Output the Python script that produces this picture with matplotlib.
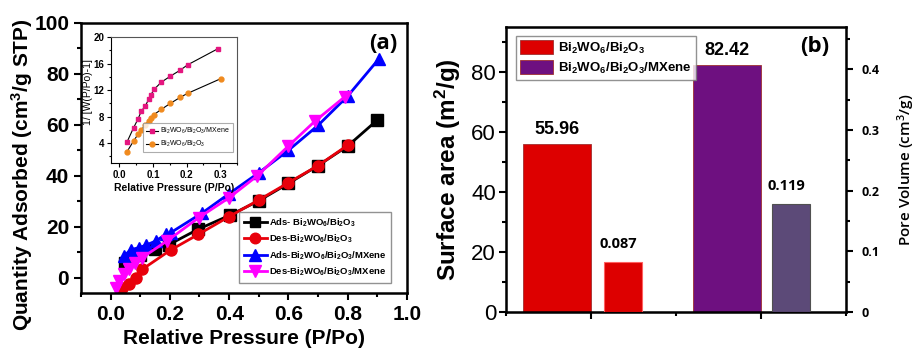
import matplotlib
matplotlib.use("Agg")
import matplotlib.pyplot as plt
from matplotlib.ticker import MultipleLocator

plt.rcParams['font.family'] = ['Liberation Sans', 'DejaVu Sans']
plt.rcParams['mathtext.default'] = 'regular'

# ---- isotherm data (a) ----
ads_p = [0.048, 0.07, 0.1, 0.15, 0.197, 0.295, 0.402, 0.5, 0.6, 0.7, 0.8, 0.9]
ads_q = [5.6, 7.0, 9.0, 11.2, 13.0, 19.0, 24.5, 30.2, 37.0, 44.0, 51.7, 61.9]
des_p = [0.04, 0.062, 0.085, 0.107, 0.203, 0.296, 0.4, 0.5, 0.6, 0.7, 0.8]
des_q = [-4.0, -2.6, 0.0, 3.3, 10.9, 17.0, 24.0, 30.5, 37.3, 44.0, 52.0]
ads_mx_p = [0.045, 0.068, 0.096, 0.118, 0.152, 0.186, 0.203, 0.31, 0.4, 0.5, 0.6, 0.7, 0.8, 0.906]
ads_mx_q = [8.5, 11.0, 11.8, 12.7, 14.4, 17.0, 17.7, 25.5, 33.0, 41.2, 50.0, 59.8, 71.3, 86.0]
des_mx_p = [0.017, 0.028, 0.045, 0.062, 0.084, 0.107, 0.19, 0.298, 0.4, 0.495, 0.6, 0.69, 0.79]
des_mx_q = [-4.0, -1.3, 1.3, 3.3, 5.9, 7.9, 14.4, 23.6, 31.4, 40.0, 51.7, 61.5, 71.0]

# ---- BET inset ----
bet_p_mx = [0.0225, 0.042, 0.055, 0.065, 0.077, 0.087, 0.094, 0.103, 0.125, 0.152, 0.181, 0.203, 0.292]
bet_y_mx = [4.15, 6.3, 7.6, 8.8, 9.6, 10.6, 11.3, 12.1, 13.2, 14.1, 15.0, 15.8, 18.2]
bet_p = [0.0225, 0.042, 0.055, 0.065, 0.077, 0.087, 0.094, 0.103, 0.125, 0.152, 0.181, 0.203, 0.301]
bet_y = [2.7, 4.3, 5.3, 6.0, 6.7, 7.4, 7.8, 8.3, 9.1, 10.0, 10.9, 11.5, 13.7]

# ---- bars (b) ----
samples = ['Bi$_2$WO$_6$/Bi$_2$O$_3$', 'Bi$_2$WO$_6$/Bi$_2$O$_3$/MXene']
surface_area = [55.96, 82.42]
pore_volume_bar = [0.083, 0.178]
pore_volume_text = ['0.087', '0.119']
sa_x = [0.8, 1.8]
pv_x = [1.19, 2.18]
sa_colors = ['#DD0000', '#6E1080']
pv_colors = ['#DD0000', '#5C4A78']

fig = plt.figure(figsize=(9.19, 3.5), dpi=100)

# ===== panel (a) =====
ax = fig.add_axes([0.0881, 0.1629, 0.3547, 0.7714])
ax.plot(ads_p, ads_q, '-s', color='black', lw=2, ms=8, label='Ads- Bi$_2$WO$_6$/Bi$_2$O$_3$')
ax.plot(des_p, des_q, '-o', color='#E8000B', lw=2, ms=8, label='Des-Bi$_2$WO$_6$/Bi$_2$O$_3$')
ax.plot(ads_mx_p, ads_mx_q, '-^', color='#0000FF', lw=2, ms=9, label='Ads-Bi$_2$WO$_6$/Bi$_2$O$_3$/MXene')
ax.plot(des_mx_p, des_mx_q, '-v', color='#FF00FF', lw=2, ms=9, label='Des-Bi$_2$WO$_6$/Bi$_2$O$_3$/MXene')
ax.set_xlim(-0.1, 1.0)
ax.set_ylim(-6, 100)
ax.xaxis.set_minor_locator(MultipleLocator(0.1))
ax.yaxis.set_major_locator(MultipleLocator(20))
ax.yaxis.set_minor_locator(MultipleLocator(10))
ax.set_xticks([0.0, 0.2, 0.4, 0.6, 0.8, 1.0])
ax.set_xticklabels(['0.0', '0.2', '0.4', '0.6', '0.8', '1.0'])
ax.tick_params(which='major', length=5, width=1.5, labelsize=15)
ax.tick_params(which='minor', length=3, width=1.5)
for lbl in ax.get_xticklabels() + ax.get_yticklabels():
    lbl.set_fontweight('bold')
for s in ax.spines.values():
    s.set_linewidth(1.8)
ax.set_xlabel('Relative Pressure (P/Po)', fontsize=15, fontweight='bold', labelpad=4)
ax.set_ylabel('Quantity Adsorbed (cm$^3$/g STP)', fontsize=15, fontweight='bold')
ax.yaxis.set_label_coords(-0.14, 0.44)
ax.text(0.97, 0.925, '(a)', transform=ax.transAxes, ha='right', va='center',
        fontsize=16, fontweight='bold', family='Open Sans')
leg = ax.legend(loc='lower right', bbox_to_anchor=(0.965, 0.02), prop={'size': 6.8, 'weight': 'bold'},
                fancybox=False, edgecolor='#777777', handlelength=2.4, borderpad=0.5,
                labelspacing=0.42, handletextpad=0.2, markerscale=0.95)
leg.get_frame().set_linewidth(1.0)

# inset
ins = fig.add_axes([0.1208, 0.5343, 0.1371, 0.36])
ins.plot(bet_p_mx, bet_y_mx, '-s', color='black', lw=0.8, ms=3, mfc='#E4167F', mec='#E4167F',
         label='Bi$_2$WO$_6$/Bi$_2$O$_3$/MXene')
ins.plot(bet_p, bet_y, '-o', color='black', lw=0.8, ms=3.5, mfc='#F08A1E', mec='#F08A1E',
         label='Bi$_2$WO$_6$/Bi$_2$O$_3$')
ins.set_xlim(-0.025, 0.35)
ins.set_ylim(1, 20)
ins.set_xticks([0.0, 0.1, 0.2, 0.3])
ins.set_yticks([4, 8, 12, 16, 20])
ins.xaxis.set_minor_locator(MultipleLocator(0.05))
ins.yaxis.set_minor_locator(MultipleLocator(2))
ins.tick_params(which='major', length=3, width=0.8, labelsize=7, pad=2)
ins.tick_params(which='minor', length=1.5, width=0.8)
for lbl in ins.get_xticklabels() + ins.get_yticklabels():
    lbl.set_fontweight('bold')
for s in ins.spines.values():
    s.set_linewidth(0.8)
ins.spines['top'].set_color('#555555')
ins.spines['right'].set_color('#555555')
ins.set_xlabel('Relative Pressure (P/Po)', fontsize=7.5, fontweight='bold', labelpad=2)
ins.set_ylabel('1/ [W(P/Po)-1]', fontsize=7.5)
ins.yaxis.set_label_coords(-0.14, 0.56)
ileg = ins.legend(loc='lower right', bbox_to_anchor=(0.995, 0.06), prop={'size': 5},
                  fancybox=False, edgecolor='#999999', handlelength=1.8, borderpad=0.4,
                  labelspacing=0.4, handletextpad=0.3)
ileg.get_frame().set_linewidth(0.8)

# ===== panel (b) =====
bx = fig.add_axes([0.5503, 0.1086, 0.37, 0.8143])
for xx, h, c, lab in zip(sa_x, surface_area, sa_colors, samples):
    bx.bar(xx, h, width=0.4, color=c, edgecolor='#A03030', linewidth=0.6, label=lab)
    bx.text(xx, h + 2, '%.2f' % h, ha='center', va='bottom', fontsize=13, fontweight='bold')
bx.set_xlim(0.5, 2.5)
bx.set_ylim(0, 95)
bx.set_xticks([1, 2])
bx.set_xticks([0.5, 1.5, 2.5], minor=True)
bx.set_xticklabels([])
bx.yaxis.set_major_locator(MultipleLocator(20))
bx.yaxis.set_minor_locator(MultipleLocator(10))
bx.tick_params(axis='x', which='major', length=5, width=1.5)
bx.tick_params(axis='x', which='minor', length=3, width=1.5)
bx.tick_params(axis='y', which='major', length=5, width=1.5, labelsize=16, pad=2)
bx.tick_params(axis='y', which='minor', length=3, width=1.5)
for s in bx.spines.values():
    s.set_linewidth(1.8)
bx.set_ylabel('Surface area (m$^2$/g)', fontsize=17.5, fontweight='bold')
bx.yaxis.set_label_coords(-0.125, 0.5)
bx.text(0.95, 0.93, '(b)', transform=bx.transAxes, ha='right', va='center',
        fontsize=16, fontweight='bold', family='Open Sans')
bleg = bx.legend(loc='upper left', bbox_to_anchor=(0.01, 0.99), prop={'size': 9.5, 'weight': 'bold'},
                 fancybox=False, edgecolor='#777777', handlelength=2.5, handleheight=1.2,
                 borderpad=0.3, labelspacing=0.35, handletextpad=0.4)
bleg.get_frame().set_linewidth(1.0)

px = bx.twinx()
for xx, h, c, t in zip(pv_x, pore_volume_bar, pv_colors, pore_volume_text):
    px.bar(xx, h, width=0.225, color=c, edgecolor='#505050' if c != '#DD0000' else '#FF6060',
           linewidth=0.8)
    px.text(xx - 0.03, h + 0.018, t, ha='center', va='bottom', fontsize=10.5, fontweight='bold',
            family='Open Sans')
px.set_ylim(0, 0.47)
px.set_yticks([0, 0.1, 0.2, 0.3, 0.4])
px.set_yticklabels(['0', '0.1', '0.2', '0.3', '0.4'])
px.yaxis.set_minor_locator(MultipleLocator(0.05))
px.tick_params(axis='y', which='major', length=5, width=1.5, labelsize=9, pad=6)
px.tick_params(axis='y', which='minor', length=3, width=1.5)
for lbl in px.get_yticklabels():
    lbl.set_fontweight('bold')
    lbl.set_family('Open Sans')
px.set_ylabel('Pore Volume (cm$^3$/g)', fontsize=11, family='Open Sans', fontweight='semibold',
              labelpad=12)

fig.savefig('out.png', dpi=100)
